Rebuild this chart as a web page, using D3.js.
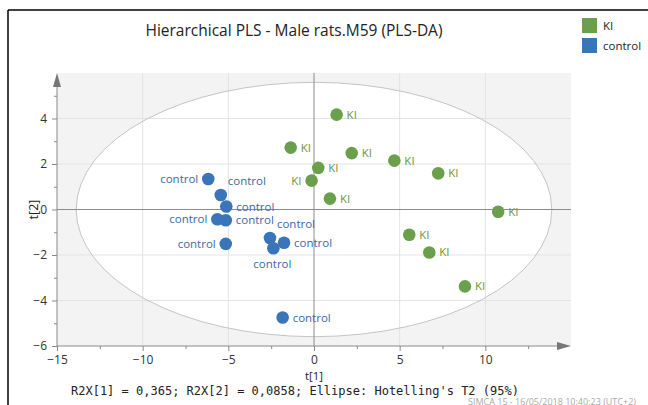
<!DOCTYPE html>
<html>
<head>
<meta charset="utf-8">
<script src="https://cdn.jsdelivr.net/npm/d3@7"></script>
<style>
  body { margin: 0; background: #fff; }
  svg { display: block; font-family: "Open Sans", "Noto Sans", sans-serif; }
</style>
</head>
<body>
<svg width="648" height="405"></svg>
<script>
// score values t[1], t[2]
const kiT1 = [1.32, -1.36, 2.20, 4.69, 0.25, -0.14, 0.93, 7.25, 10.75, 5.56, 6.73, 8.81];
const kiT2 = [4.17, 2.72, 2.48, 2.15, 1.83, 1.27, 0.48, 1.59, -0.10, -1.11, -1.89, -3.38];
const controlT1 = [-6.17, -5.44, -5.12, -5.64, -5.15, -5.15, -2.57, -1.75, -2.37, -1.83];
const controlT2 = [1.34, 0.64, 0.13, -0.43, -0.47, -1.51, -1.25, -1.46, -1.70, -4.75];
const groups = ["KI", "control"];
const xTicks = [-15, -10, -5, 0, 5, 10];
const yTicks = [-6, -4, -2, 0, 2, 4];
const ellipseA = 13.88, ellipseB = 5.59; // Hotelling's T2 (95%)

// label placement per point
const kiLabelSide = ["r", "r", "r", "r", "r", "l", "r", "r", "r", "r", "r", "r"];
const controlLabelSide = ["l", "tr", "r", "l", "r", "l", "tr", "r", "b", "r"];

const colors = {KI: "#6a9f4b", control: "#3b75b9"};
const textColors = {KI: "#6e9444", control: "#3a69a3"};

const svg = d3.select("svg");

const x = d3.scaleLinear().domain([-15, 15]).range([57, 571]);
const y = d3.scaleLinear().domain([-6, 6]).range([346, 73]);

// frame
svg.append("line").attr("x1", 8).attr("x2", 648).attr("y1", 10).attr("y2", 10)
    .attr("stroke", "#000").attr("stroke-width", 1.5);
svg.append("line").attr("x1", 8).attr("x2", 8).attr("y1", 10).attr("y2", 405)
    .attr("stroke", "#000").attr("stroke-width", 1.5);

svg.append("text")
    .attr("x", 294).attr("y", 36)
    .attr("text-anchor", "middle")
    .attr("font-size", 15.5)
    .attr("fill", "#222")
    .text("Hierarchical PLS - Male rats.M59 (PLS-DA)");

// legend
const legend = svg.append("g").selectAll("g")
    .data(groups)
    .join("g")
    .attr("transform", (d, i) => `translate(582,${18 + i * 20})`);
legend.append("rect").attr("width", 15).attr("height", 15).attr("fill", (d) => colors[d]);
legend.append("text").attr("x", 21).attr("y", 11.5)
    .attr("font-size", 11.5).attr("fill", "#222").text((d) => d);

// plot background
const plot = svg.append("g");
plot.append("rect")
    .attr("x", x(-15)).attr("y", y(6))
    .attr("width", x(15) - x(-15)).attr("height", y(-6) - y(6))
    .attr("fill", "#f3f3f3");

plot.append("ellipse")
    .attr("cx", x(0)).attr("cy", y(0))
    .attr("rx", x(ellipseA) - x(0)).attr("ry", y(0) - y(ellipseB))
    .attr("fill", "#fff");

// grid
plot.append("g").selectAll("line")
    .data(yTicks.filter((d) => d !== 0 && d !== -6))
    .join("line")
    .attr("x1", x(-15)).attr("x2", x(15))
    .attr("y1", (d) => y(d)).attr("y2", (d) => y(d))
    .attr("stroke", "#e3e3e3");
plot.append("g").selectAll("line")
    .data(xTicks.filter((d) => d !== 0 && d !== -15))
    .join("line")
    .attr("x1", (d) => x(d)).attr("x2", (d) => x(d))
    .attr("y1", y(6)).attr("y2", y(-6))
    .attr("stroke", "#e3e3e3");

plot.append("ellipse")
    .attr("cx", x(0)).attr("cy", y(0))
    .attr("rx", x(ellipseA) - x(0)).attr("ry", y(0) - y(ellipseB))
    .attr("fill", "none").attr("stroke", "#c4c4c4");

// zero lines
plot.append("line").attr("x1", x(-15)).attr("x2", x(15)).attr("y1", y(0)).attr("y2", y(0))
    .attr("stroke", "#8c8c8c");
plot.append("line").attr("x1", x(0)).attr("x2", x(0)).attr("y1", y(6)).attr("y2", y(-6))
    .attr("stroke", "#8c8c8c");

// axes
const axisColor = "#8a8a8a";
const xAxis = svg.append("g")
    .attr("transform", `translate(0,${y(-6)})`)
    .call(d3.axisBottom(x).tickValues(xTicks).tickSize(5).tickPadding(4).tickFormat(d3.format("d")));
svg.append("g")
    .attr("transform", `translate(0,${y(-6)})`)
    .call(d3.axisBottom(x).tickValues(d3.range(-12.5, 15, 5)).tickSize(3).tickFormat(""))
    .call((g) => g.select(".domain").remove());
const yAxis = svg.append("g")
    .attr("transform", `translate(${x(-15)},0)`)
    .call(d3.axisLeft(y).tickValues(yTicks).tickSize(5).tickPadding(5).tickFormat(d3.format("d")));
svg.append("g")
    .attr("transform", `translate(${x(-15)},0)`)
    .call(d3.axisLeft(y).tickValues(d3.range(-5, 6, 2)).tickSize(3).tickFormat(""))
    .call((g) => g.select(".domain").remove());

xAxis.select(".domain").remove();
yAxis.select(".domain").remove();
svg.selectAll(".tick line").attr("stroke", axisColor);
svg.selectAll(".tick text").attr("font-size", 12).attr("fill", "#333")
    .attr("font-family", "'Open Sans', 'Noto Sans', sans-serif");

svg.append("line").attr("x1", x(-15)).attr("x2", x(15) - 8).attr("y1", y(-6)).attr("y2", y(-6))
    .attr("stroke", axisColor);
svg.append("line").attr("x1", x(-15)).attr("x2", x(-15)).attr("y1", y(-6)).attr("y2", y(6) + 8)
    .attr("stroke", axisColor);
svg.append("path")
    .attr("d", `M${x(15)},${y(-6)} L${x(15) - 14},${y(-6) - 4} L${x(15) - 14},${y(-6) + 4} Z`)
    .attr("fill", "#777");
svg.append("path")
    .attr("d", `M${x(-15)},${y(6)} L${x(-15) - 4},${y(6) + 14} L${x(-15) + 4},${y(6) + 14} Z`)
    .attr("fill", "#777");

svg.append("text").attr("x", x(0)).attr("y", 379.5)
    .attr("text-anchor", "middle").attr("font-size", 11.5).attr("fill", "#222").text("t[1]");
svg.append("text")
    .attr("transform", `translate(38,${y(0)}) rotate(-90)`)
    .attr("text-anchor", "middle").attr("font-size", 12.5).attr("fill", "#222").text("t[2]");

// points
const points = [
    ...kiT1.map((v, i) => ({group: "KI", t1: v, t2: kiT2[i], side: kiLabelSide[i]})),
    ...controlT1.map((v, i) => ({group: "control", t1: v, t2: controlT2[i], side: controlLabelSide[i]}))
];

const labelOffset = {
    r: {dx: 10, dy: 4, anchor: "start"},
    l: {dx: -10, dy: 4, anchor: "end"},
    tr: {dx: 26, dy: -10, anchor: "middle"},
    b: {dx: -1, dy: 20, anchor: "middle"}
};

svg.append("g").selectAll("circle")
    .data(points)
    .join("circle")
    .attr("cx", (d) => x(d.t1))
    .attr("cy", (d) => y(d.t2))
    .attr("r", 6.3)
    .attr("fill", (d) => colors[d.group]);

svg.append("g").selectAll("text")
    .data(points)
    .join("text")
    .attr("x", (d) => x(d.t1) + labelOffset[d.side].dx)
    .attr("y", (d) => y(d.t2) + labelOffset[d.side].dy)
    .attr("text-anchor", (d) => labelOffset[d.side].anchor)
    .attr("font-size", 11.5)
    .attr("fill", (d) => textColors[d.group])
    .text((d) => d.group);

// footer
svg.append("text").attr("x", 71).attr("y", 394.5)
    .attr("font-family", "'DejaVu Sans Mono', 'Liberation Mono', monospace")
    .attr("font-size", 12).attr("fill", "#222")
    .text("R2X[1] = 0,365; R2X[2] = 0,0858; Ellipse: Hotelling's T2 (95%)");
svg.append("text").attr("x", 468).attr("y", 404.5)
    .attr("font-size", 9).attr("fill", "#aaa")
    .text("SIMCA 15 - 16/05/2018 10:40:23 (UTC+2)");
</script>
</body>
</html>
